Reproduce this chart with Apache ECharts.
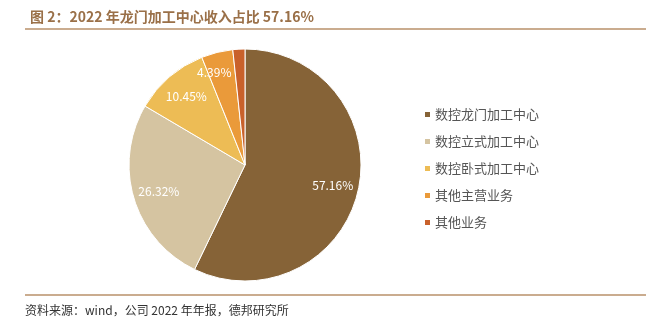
<!DOCTYPE html>
<html><head><meta charset="utf-8">
<script src="https://cdn.jsdelivr.net/npm/echarts@6/dist/echarts.min.js"></script>
<style>html,body{margin:0;padding:0;background:#fff}#c{width:654px;height:332px}</style>
</head><body><div id="c"></div>
<script>
const titleText = '图 2：2022 年龙门加工中心收入占比 57.16%';
const sourceText = '资料来源：wind，公司 2022 年年报，德邦研究所';
const categories = ['数控龙门加工中心','数控立式加工中心','数控卧式加工中心','其他主营业务','其他业务'];
const values = [57.16, 26.32, 10.45, 4.39, 1.68];
const labels = ['57.16%','26.32%','10.45%','4.39%',''];
const colors = ['#866337','#D5C4A1','#EDBC55','#EA9A3A','#C9612B'];

const chart = echarts.init(document.getElementById('c'));
const font = '"Noto Sans CJK SC", "Noto Sans", sans-serif';
chart.setOption({
  animation: false,
  color: colors,
  title: {
    text: titleText, left: 25, top: 5,
    textStyle: {fontFamily: font, fontSize: 14, fontWeight: 'bold', color: '#9A7048'}
  },
  legend: {
    orient: 'vertical', left: 418, top: 103, itemWidth: 7, itemHeight: 7, itemGap: 14,
    icon: 'rect', data: categories,
    textStyle: {fontFamily: font, fontSize: 13, color: '#555', padding: [0,0,0,-1]}
  },
  graphic: [
    {type: 'line', shape: {x1: 25, y1: 29, x2: 646, y2: 29}, style: {stroke: '#B8906A', lineWidth: 1.5}},
    {type: 'line', shape: {x1: 25, y1: 295, x2: 646, y2: 295}, style: {stroke: '#B8906A', lineWidth: 1.5}},
    {type: 'text', left: 25, top: 304, style: {text: sourceText, font: '12px ' + font, fill: '#333'}}
  ],
  series: [
    {
      type: 'pie', center: [245, 165], radius: [0, 116], startAngle: 90, clockwise: true,
      itemStyle: {borderColor: '#fff', borderWidth: 1},
      label: {show: false}, labelLine: {show: false}, emphasis: {disabled: true},
      data: categories.map((n, i) => ({name: n, value: values[i]}))
    },
    {
      type: 'pie', center: [245, 165], radius: [58, 116], startAngle: 90, clockwise: true,
      silent: true, emphasis: {disabled: true}, avoidLabelOverlap: false,
      itemStyle: {color: 'rgba(0,0,0,0)'},
      label: {show: true, position: 'inside', fontFamily: font, fontSize: 12, color: '#fff',
        formatter: p => labels[p.dataIndex]},
      labelLine: {show: false},
      data: categories.map((n, i) => ({name: n, value: values[i],
        label: i === 3 ? {offset: [-9, -5]} : undefined}))
    }
  ]
});
</script></body></html>
